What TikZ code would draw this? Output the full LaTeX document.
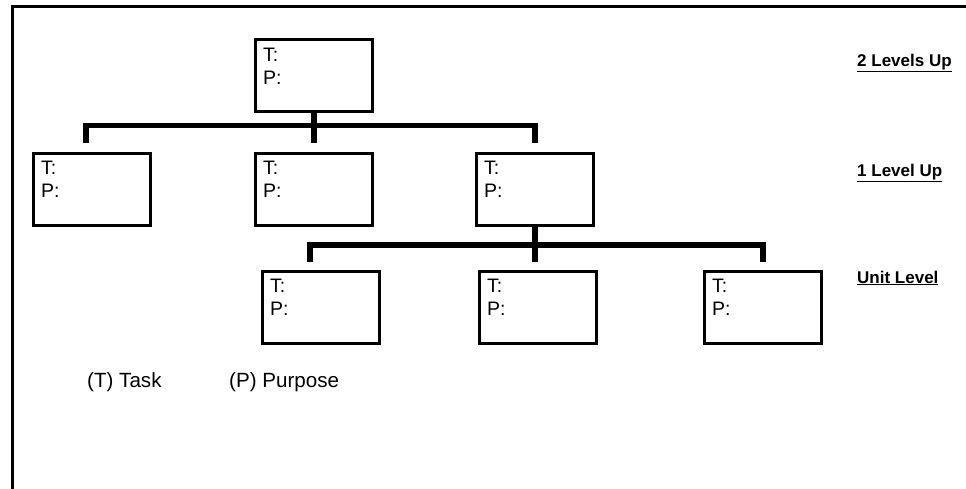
\documentclass[tikz,border=0pt]{standalone}
\usepackage{fontspec}
\setmainfont{Liberation Sans}
\usepackage{tikz}
\usetikzlibrary{positioning,calc}
\tikzset{
  x=1pt, y=-1pt,
  tp/.style = {inner sep=0pt, anchor=base west, font=\fontsize{19.5}{22}\selectfont},
  box/.style = {draw, line width=3pt, minimum width=117pt, minimum height=72pt,
   anchor=north west, inner sep=0pt,
   label={[tp, xshift=9pt, yshift=-23pt]north west:T:},
   label={[tp, xshift=9pt, yshift=-46pt]north west:P:}},
  conn/.style = {line width=5.5pt, line join=miter},
  lvl/.style = {anchor=base west, inner sep=0pt, font=\fontsize{17}{20}\selectfont\bfseries},
  key/.style = {anchor=base west, inner sep=0pt, font=\fontsize{20.6}{24}\selectfont},
}

\begin{document}
\begin{tikzpicture}
  \useasboundingbox (0,0) rectangle (966,489);
  \draw[line width=3.5pt] (966,6.5) -- (12.5,6.5) -- (12.5,489);
  \node (top) [box] at (254,38.5) {};
  \node (l1) [box] at (32,152) {};
  \node (l2) [box] at (254,152) {};
  \node (l3) [box] at (475,152) {};
  \node (u1) [box] at (261,269.5) {};
  \node (u2) [box] at (478,269.5) {};
  \node (u3) [box] at (703,269.5) {};
  \coordinate (b1) at (314,125.5);
  \coordinate (b2) at (535,245);
  \draw[conn, shorten >=8.5pt] (top.south) -- (l2.north);
  \draw[conn, shorten <=8.5pt, shorten >=8.5pt] ([xshift=-6pt]l1.north) |- (b1) -| (l3.north);
  \draw[conn, shorten >=7.5pt] (l3.south) -- (l3.south |- u2.north);
  \draw[conn, shorten <=7.5pt, shorten >=7.5pt] ([xshift=-11pt]u1.north) |- (b2) -| (u3.north);
  \node (lvltwo) [lvl] at (857,66.5) {\underline{2 Levels Up}};
  \node (lvlone) [lvl] at (857,176.5) {\underline{1 Level Up}};
  \node (lvlunit) [lvl] at (857,283) {\underline{Unit Level}};
  \node (task) [key] at (87,387) {(T) Task};
  \node (purpose) [key] at (229,387) {(P) Purpose};
\end{tikzpicture}
\end{document}
